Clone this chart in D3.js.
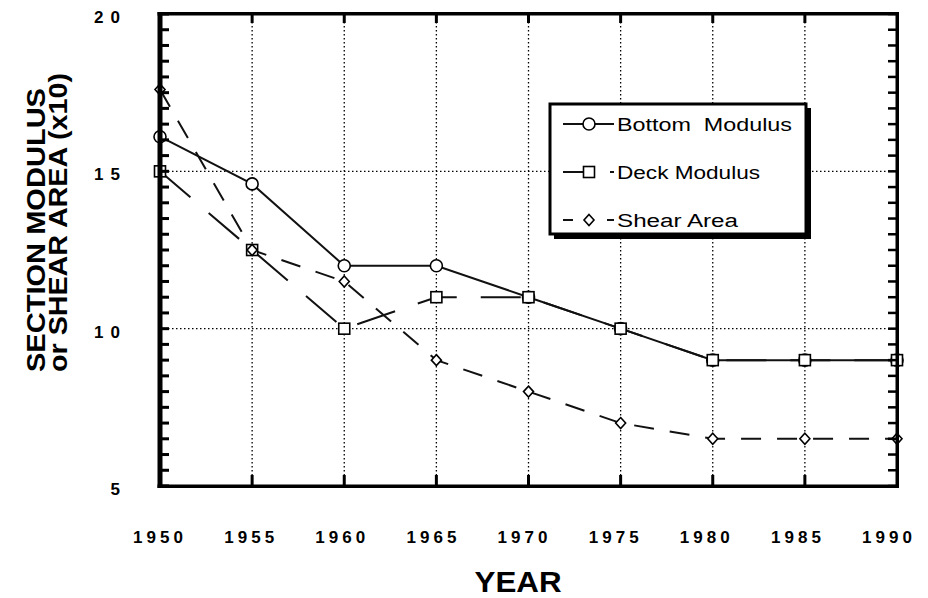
<!DOCTYPE html>
<html>
<head>
<meta charset="utf-8">
<script src="https://cdn.jsdelivr.net/npm/d3@7"></script>
<style>
  body { margin: 0; background: #fff; }
  #chart-container { width: 928px; height: 598px; }
  text { font-family: "Liberation Sans", Arial, Helvetica, sans-serif; fill: #000; }
</style>
</head>
<body>
<div id="chart-container"></div>
<script>
// values
const years = [1950, 1955, 1960, 1965, 1970, 1975, 1980, 1985, 1990];
const bottomModulus = [16.1, 14.6, 12, 12, 11, 10, 9, 9, 9];
const deckModulus = [15, 12.5, 10, 11, 11, 10, 9, 9, 9];
const shearArea = [17.6, 12.5, 11.5, 9, 8, 7, 6.5, 6.5, 6.5];
const yTickValues = [5, 10, 15, 20];
const xTickLabels = ["1950", "1955", "1960", "1965", "1970", "1975", "1980", "1985", "1990"];
const seriesNames = ["Bottom  Modulus", "Deck Modulus", "Shear Area"];

let containerId = 'chart-container',
    svg = d3.select(`#${containerId}`).append("svg").attr("width", 928).attr("height", 598),
    margin = { top: 14, right: 31, bottom: 112, left: 160 },
    width = 928 - margin.left - margin.right,
    height = 598 - margin.top - margin.bottom,
    g = svg.append("g").attr("transform", "translate(" + margin.left + "," + margin.top + ")");

let x = d3.scaleLinear().domain([1950, 1990]).range([0, width]),
    y = d3.scaleLinear().domain([5, 20]).range([height, 0]);

let series = [
  { name: seriesNames[0], values: bottomModulus, symbol: "circle", dash: null, legendDash: null },
  { name: seriesNames[1], values: deckModulus, symbol: "square", dash: "40,24", legendDash: "28,19" },
  { name: seriesNames[2], values: shearArea, symbol: "diamond", dash: "20,16", legendDash: "10,14,0,20,8" }
];

function drawSymbol(sel, type) {
  if (type === "circle") {
    sel.append("circle").attr("r", 6);
  } else if (type === "square") {
    sel.append("rect").attr("x", -5.5).attr("y", -5.5).attr("width", 11).attr("height", 11);
  } else {
    sel.append("path").attr("d", "M0,-5.5L5,0L0,5.5L-5,0Z");
  }
  sel.selectAll("circle,rect,path")
    .attr("fill", "#fff").attr("stroke", "#000").attr("stroke-width", 1.6);
}

// dotted grid
g.append("g").selectAll("line")
  .data(years.slice(1, -1))
  .join("line")
  .attr("x1", d => x(d)).attr("x2", d => x(d))
  .attr("y1", 0).attr("y2", height)
  .attr("stroke", "#000").attr("stroke-width", 1.3).attr("stroke-dasharray", "1.5,2.5");

g.append("g").selectAll("line")
  .data(yTickValues.slice(1, -1))
  .join("line")
  .attr("y1", d => y(d)).attr("y2", d => y(d))
  .attr("x1", 0).attr("x2", width)
  .attr("stroke", "#000").attr("stroke-width", 1.3).attr("stroke-dasharray", "1.5,2.5");

let line = d3.line()
  .x((d, i) => x(years[i]))
  .y(d => y(d));

series.forEach(s => {
  g.append("path")
    .datum(s.values)
    .attr("fill", "none")
    .attr("stroke", "#111")
    .attr("stroke-width", 2)
    .attr("stroke-dasharray", s.dash)
    .attr("d", line);
});

series.forEach(s => {
  g.append("g").selectAll("g")
    .data(s.values)
    .join("g")
    .attr("transform", (d, i) => `translate(${x(years[i])},${y(d)})`)
    .each(function () { drawSymbol(d3.select(this), s.symbol); });
});

// heavy frame with inward ticks, drawn as filled rects
let minorY = d3.range(5, 20.01, 0.5),
    frame = g.append("g").attr("class", "frame");

frame.selectAll(".ytick-l")
  .data(minorY)
  .join("rect")
  .attr("class", "ytick-l")
  .attr("x", 0).attr("width", 9)
  .attr("y", d => y(d) - 1.5).attr("height", 3)
  .attr("fill", "#000");

frame.selectAll(".ytick-r")
  .data(minorY)
  .join("rect")
  .attr("class", "ytick-r")
  .attr("x", width - 9).attr("width", 9)
  .attr("y", d => y(d) - 1.25).attr("height", 2.5)
  .attr("fill", "#000");

frame.selectAll(".xtick-t")
  .data(years.slice(1, -1))
  .join("rect")
  .attr("class", "xtick-t")
  .attr("x", d => x(d) - 1.5).attr("width", 3)
  .attr("y", 0).attr("height", 9)
  .attr("fill", "#000");

frame.selectAll(".xtick-b")
  .data(years.slice(1, -1))
  .join("rect")
  .attr("class", "xtick-b")
  .attr("x", d => x(d) - 1.5).attr("width", 3)
  .attr("y", height - 11).attr("height", 11)
  .attr("fill", "#000");

frame.append("rect").attr("x", -2.5).attr("y", -2).attr("width", 5).attr("height", height + 4).attr("fill", "#000");
frame.append("rect").attr("x", width - 1.5).attr("y", -2).attr("width", 3.5).attr("height", height + 4).attr("fill", "#000");
frame.append("rect").attr("x", -2.5).attr("y", -2).attr("width", width + 4.5).attr("height", 3.5).attr("fill", "#000");
frame.append("rect").attr("x", -2.5).attr("y", height - 1.5).attr("width", width + 4.5).attr("height", 3.5).attr("fill", "#000");

// tick labels
g.append("g").selectAll("text")
  .data(years)
  .join("text")
  .attr("x", d => x(d) - 2 - (d - 1950) * 0.2)
  .attr("y", height + 57)
  .attr("text-anchor", "middle")
  .attr("font-size", 17)
  .attr("font-weight", "bold")
  .attr("textLength", 50)
  .attr("lengthAdjust", "spacing")
  .text((d, i) => xTickLabels[i]);

g.append("g").selectAll("text")
  .data(yTickValues)
  .join("text")
  .attr("x", -40)
  .attr("y", d => y(d) + 9)
  .attr("text-anchor", "end")
  .attr("font-size", 17)
  .attr("font-weight", "bold")
  .each(function (d) {
    if (String(d).length > 1) d3.select(this).attr("textLength", 26).attr("lengthAdjust", "spacing");
  })
  .text(d => d);

// axis titles
svg.append("text")
  .attr("transform", "translate(45,372) rotate(-90)")
  .attr("font-size", 25)
  .attr("font-weight", "bold")
  .attr("textLength", 284)
  .attr("lengthAdjust", "spacingAndGlyphs")
  .text("SECTION MODULUS");

svg.append("text")
  .attr("transform", "translate(67,372) rotate(-90)")
  .attr("font-size", 25)
  .attr("font-weight", "bold")
  .attr("textLength", 299)
  .attr("lengthAdjust", "spacingAndGlyphs")
  .text("or SHEAR AREA (x10)");

svg.append("text")
  .attr("x", 518)
  .attr("y", 592)
  .attr("text-anchor", "middle")
  .attr("font-size", 29)
  .attr("font-weight", "bold")
  .attr("textLength", 87)
  .attr("lengthAdjust", "spacingAndGlyphs")
  .text("YEAR");

// legend with drop shadow
let legend = svg.append("g").attr("transform", "translate(550,104)");

legend.append("rect")
  .attr("x", 4).attr("y", 4).attr("width", 257).attr("height", 131)
  .attr("fill", "#000");

legend.append("rect")
  .attr("x", 0).attr("y", 0).attr("width", 256).attr("height", 130)
  .attr("fill", "#fff").attr("stroke", "#000").attr("stroke-width", 3);

let legendLengths = [175, 143, 121];

series.forEach((s, i) => {
  let row = legend.append("g").attr("transform", `translate(0,${20 + i * 48})`);
  row.append("line")
    .attr("x1", 13).attr("x2", 64)
    .attr("stroke", "#111").attr("stroke-width", 2)
    .attr("stroke-dasharray", s.legendDash);
  row.append("g").attr("transform", "translate(39,0)").call(sel => drawSymbol(sel, s.symbol));
  row.append("text")
    .attr("x", 67)
    .attr("y", 6.5)
    .attr("font-size", 18)
    .attr("textLength", legendLengths[i])
    .attr("lengthAdjust", "spacingAndGlyphs")
    .style("white-space", "pre")
    .text(s.name);
});
</script>
</body>
</html>
